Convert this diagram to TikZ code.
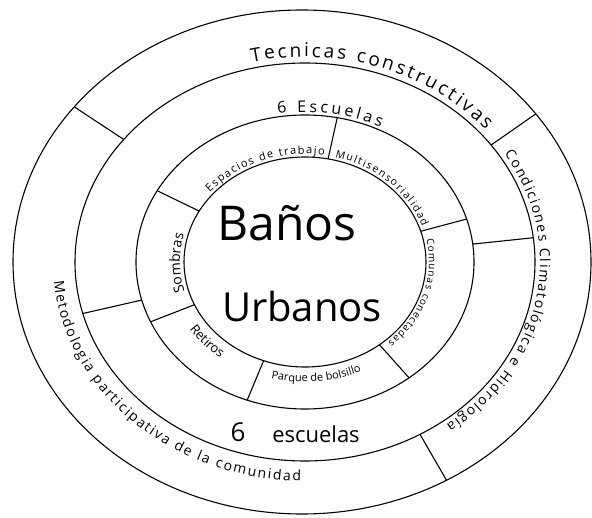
\documentclass[tikz,border=0pt]{standalone}
\usepackage{fontspec}
\setmainfont{Open Sans}
\usetikzlibrary{calc,decorations.text}
\begin{document}
\begin{tikzpicture}[x=1pt,y=1pt,
  ring/.style={line width=1.1pt, black},
  divider/.style={line width=1.1pt, black},
  bigtext/.style={font=\fontsize{#1}{#1}\selectfont, inner sep=0pt}]
\useasboundingbox (0,0) rectangle (592,517);
\fill[white] (0,0) rectangle (592,517);
\coordinate (C) at (305,255);
\coordinate (C0) at (302,255);
% rings
\draw[ring] (C0) ellipse[x radius=289, y radius=252];
\draw[ring] (C) ellipse[x radius=230, y radius=199];
\draw[ring] (C) ellipse[x radius=169, y radius=147];
\draw[ring] (C) ellipse[x radius=121, y radius=105];
% dividers outer ring
\foreach \a in {142,36,-60}
  \draw[divider] ($(C)+(\a:230 and 199)$) -- ($(C0)+(\a:289 and 252)$);
% dividers middle ring
\foreach \a in {7,195}
  \draw[divider] ($(C)+(\a:169 and 147)$) -- ($(C)+(\a:230 and 199)$);
% dividers inner ring
\foreach \a in {79,17,-52,-110,204,151}
  \draw[divider] ($(C)+(\a:121 and 105)$) -- ($(C)+(\a:169 and 147)$);
% outer ring texts
\path[decorate, decoration={text along path, text align={fit to path},
  text={|\fontsize{19}{19}\selectfont|Tecnicas constructivas}}]
  ($(C)+(103:236 and 205)$) arc[start angle=103, end angle=40, x radius=236, y radius=205];
\path[decorate, decoration={text along path, text align={fit to path},
  text={|\fontsize{14}{14}\selectfont|Condiciones Climatológica e Hidrología}}]
  ($(C)+(32:235 and 204)$) arc[start angle=32, end angle=-53, x radius=235, y radius=204];
\path[decorate, decoration={text along path, text align={fit to path},
  text={|\fontsize{14}{14}\selectfont|Metodologia participativa de la comunidad}}]
  ($(C)+(185:252 and 219)$) arc[start angle=185, end angle=269, x radius=252, y radius=219];
% middle ring texts
\path[decorate, decoration={text along path, text align={fit to path},
  text={|\fontsize{16}{16}\selectfont|6 Escuelas}}]
  ($(C)+(99:173 and 150)$) arc[start angle=99, end angle=64, x radius=173, y radius=150];
\node[bigtext=26, anchor=base] (six) at (238,75) {6};
\node[bigtext=22, anchor=base] (esc) at (316,74) {escuelas};
% inner ring texts
\path[decorate, decoration={text along path, text align={fit to path},
  text={|\fontsize{11}{11}\selectfont|Espacios de trabajo}}]
  ($(C)+(140:124 and 108)$) arc[start angle=140, end angle=81, x radius=124, y radius=108];
\path[decorate, decoration={text along path, text align={fit to path},
  text={|\fontsize{10.5}{10.5}\selectfont|Multisensorialidad}}]
  ($(C)+(76:124 and 108)$) arc[start angle=76, end angle=19, x radius=124, y radius=108];
\path[decorate, decoration={text along path, text align={fit to path},
  text={|\fontsize{10}{10}\selectfont|Comunas conectadas}}]
  ($(C)+(12:124 and 108)$) arc[start angle=12, end angle=-48, x radius=124, y radius=108];
\path[decorate, decoration={text along path, text align={center},
  text={|\fontsize{11}{11}\selectfont|Parque de bolsillo}}]
  ($(C)+(252:138 and 120)$) arc[start angle=252, end angle=298, x radius=138, y radius=120];
\path[decorate, decoration={text along path, text align={center},
  text={|\fontsize{13}{13}\selectfont|Retiros}}]
  ($(C)+(207:139 and 121)$) arc[start angle=207, end angle=239, x radius=139, y radius=121];
\path[decorate, decoration={text along path, text align={center},
  text={|\fontsize{14}{14}\selectfont|Sombras}}]
  ($(C)+(200:125 and 109)$) arc[start angle=200, end angle=161, x radius=125, y radius=109];
% centre
\node[bigtext=48, anchor=base] (banos) at (287,276) {Baños};
\node[bigtext=40, anchor=base] (urbanos) at (302,195) {Urbanos};
\end{tikzpicture}
\end{document}
